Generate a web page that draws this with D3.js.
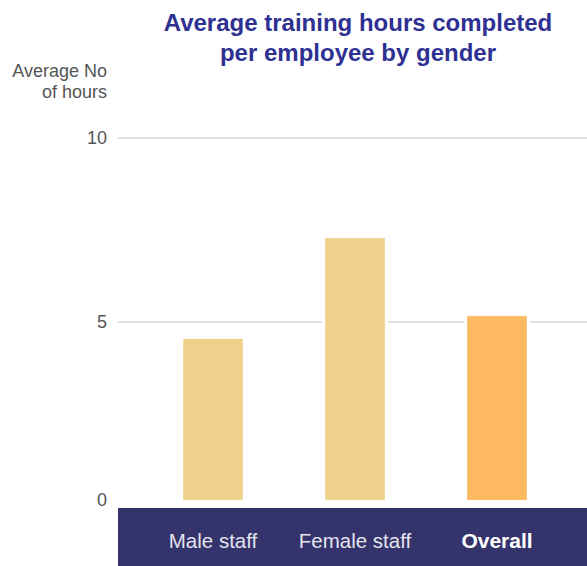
<!DOCTYPE html>
<html><head><meta charset="utf-8">
<script src="https://cdn.jsdelivr.net/npm/d3@7"></script>
<style>body{margin:0;background:#fff}svg{display:block}</style>
</head><body>
<svg id="c" width="587" height="566"></svg>
<script>
const categories = ["Male staff", "Female staff", "Overall"];
const values = [4.54, 7.28, 5.16];
const barColors = ["#efd18b", "#efd18b", "#fcb960"];
const tickValues = [0, 5, 10];
const titleLines = ["Average training hours completed", "per employee by gender"];
const yLabelLines = ["Average No", "of hours"];

const svg = d3.select("#c");
const font = "'Liberation Sans', Arial, Helvetica, sans-serif";

const x = d3.scaleBand().domain(categories).range([142, 568]).paddingInner(0.58).paddingOuter(0.29);
const y = d3.scaleLinear().domain([0, 10]).range([506, 138]);

// gridlines
svg.append("g").selectAll("line").data(tickValues.filter(v => v > 0)).join("line")
  .attr("x1", 118).attr("x2", 587)
  .attr("y1", d => y(d)).attr("y2", d => y(d))
  .attr("stroke", "#d9d9d9").attr("stroke-width", 1.5);

// tick labels
svg.append("g").selectAll("text").data(tickValues).join("text")
  .attr("x", 107).attr("y", d => y(d) - (d === 0 ? 6 : 0))
  .attr("text-anchor", "end").attr("dominant-baseline", "central")
  .attr("font-family", font).attr("font-size", 18).attr("fill", "#555")
  .text(d => d);

// y label
svg.append("g").selectAll("text").data(yLabelLines).join("text")
  .attr("x", 107).attr("y", (d, i) => 77 + i * 21)
  .attr("text-anchor", "end")
  .attr("font-family", font).attr("font-size", 18).attr("fill", "#555")
  .text(d => d);

// title
svg.append("g").selectAll("text").data(titleLines).join("text")
  .attr("x", 358).attr("y", (d, i) => 31 + i * 30)
  .attr("text-anchor", "middle")
  .attr("font-family", font).attr("font-size", 24).attr("font-weight", "bold").attr("fill", "#2e3192")
  .text(d => d);

// bar white halos (gap in gridlines)
const data = categories.map((c, i) => ({c, v: values[i], col: barColors[i]}));
svg.append("g").selectAll("rect").data(data).join("rect")
  .attr("x", d => x(d.c) - 3).attr("width", x.bandwidth() + 6)
  .attr("y", d => y(d.v) - 3).attr("height", d => y(0) - y(d.v))
  .attr("fill", "#fff");
svg.append("g").selectAll("rect").data(data).join("rect")
  .attr("x", d => x(d.c)).attr("width", x.bandwidth())
  .attr("y", d => y(d.v)).attr("height", d => y(0) - 6 - y(d.v))
  .attr("fill", d => d.col);

// bottom band
svg.append("rect").attr("x", 118).attr("y", 508).attr("width", 469).attr("height", 58).attr("fill", "#35336b");
svg.append("g").selectAll("text").data(categories).join("text")
  .attr("x", d => x(d) + x.bandwidth() / 2).attr("y", 548)
  .attr("text-anchor", "middle")
  .attr("font-family", font)
  .attr("font-size", (d, i) => i === categories.length - 1 ? 21 : 20.5)
  .attr("font-weight", (d, i) => i === categories.length - 1 ? "bold" : "normal")
  .attr("fill", (d, i) => i === categories.length - 1 ? "#ffffff" : "#e4e4ee")
  .text(d => d);
</script>
</body></html>
